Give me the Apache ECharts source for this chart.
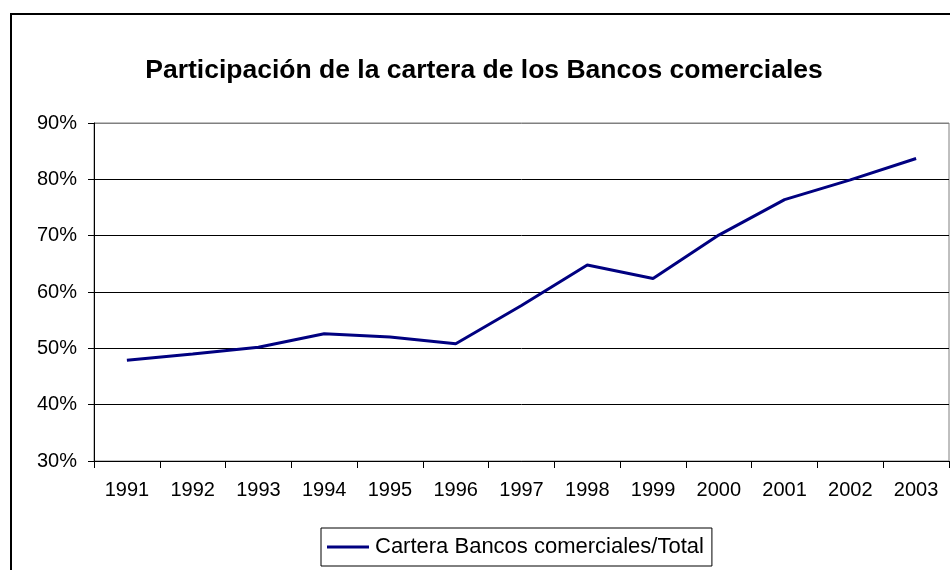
<!DOCTYPE html>
<html>
<head>
<meta charset="utf-8">
<script src="https://cdn.jsdelivr.net/npm/echarts@6/dist/echarts.min.js"></script>
<style>
  html, body { margin: 0; padding: 0; background: #fff; }
  #chart { width: 950px; height: 570px; }
</style>
</head>
<body>
<div id="chart"></div>
<script>
// data
const years = ["1991", "1992", "1993", "1994", "1995", "1996", "1997", "1998", "1999", "2000", "2001", "2002", "2003"];
const carteraShare = [47.9, 49.0, 50.2, 52.6, 52.0, 50.8, 57.6, 64.8, 62.4, 70.1, 76.4, 79.9, 83.7];
const seriesName = "Cartera Bancos comerciales/Total";
const titleText = "Participación de la cartera de los Bancos comerciales";

const fontFam = "'Liberation Sans', Arial, sans-serif";
const myChart = echarts.init(document.getElementById("chart"));

const option = {
  backgroundColor: "#fff",
  animation: false,
  title: {
    text: titleText,
    left: 479,
    top: 52,
    textAlign: "center",
    textStyle: { fontFamily: fontFam, fontSize: 26.5, fontWeight: "bold", color: "#000" },
  },
  graphic: [
    {
      // outer chart frame
      type: "rect",
      shape: { x: 11, y: 14, width: 1000, height: 600 },
      style: { fill: null, stroke: "#000", lineWidth: 2 },
      silent: true,
      z: -1,
    },
  ],
  legend: {
    left: 321,
    top: 528,
    padding: [8, 8, 8, 6],
    borderColor: "#000",
    borderWidth: 1,
    icon: "rect",
    itemWidth: 42,
    itemHeight: 3,
    itemGap: 4,
    textStyle: { fontFamily: fontFam, fontSize: 22, color: "#000", padding: [0, 0, 0, 1] },
    data: [seriesName],
  },
  grid: {
    left: 94,
    top: 123,
    right: 1,
    bottom: 109,
    show: true,
    borderColor: "#808080",
    borderWidth: 1,
  },
  xAxis: {
    type: "category",
    data: years,
    boundaryGap: true,
    axisLine: { lineStyle: { color: "#000", width: 1 } },
    axisTick: { show: true, length: 7, alignWithLabel: false, lineStyle: { color: "#000" } },
    axisLabel: { fontFamily: fontFam, fontSize: 20, color: "#000", margin: 19, interval: 0 },
  },
  yAxis: {
    type: "value",
    min: 30,
    max: 90,
    interval: 10,
    axisLine: { show: true, lineStyle: { color: "#000", width: 1 } },
    axisTick: { show: true, length: 6, lineStyle: { color: "#000" } },
    axisLabel: { fontFamily: fontFam, fontSize: 20, color: "#000", margin: 17, formatter: "{value}%" },
    splitLine: {
      show: true,
      lineStyle: { color: ["#000", "#000", "#000", "#000", "#000", "#000", "#808080"], width: 1 },
    },
  },
  series: [
    {
      name: seriesName,
      type: "line",
      data: carteraShare,
      symbol: "none",
      showSymbol: false,
      lineStyle: { color: "#000080", width: 3 },
      itemStyle: { color: "#000080" },
    },
  ],
};

myChart.setOption(option);
</script>
</body>
</html>
